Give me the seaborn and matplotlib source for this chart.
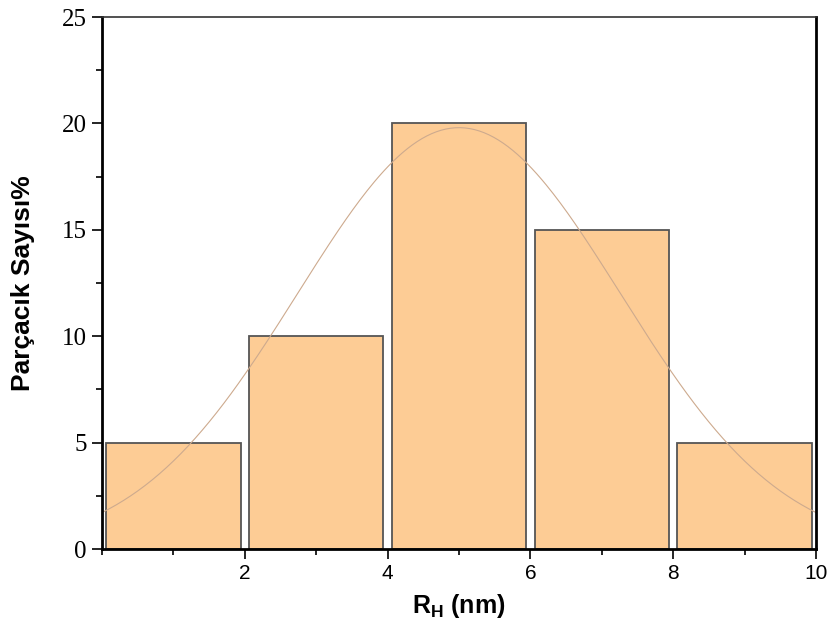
import numpy as np
import pandas as pd
import seaborn as sns
import matplotlib.pyplot as plt
from matplotlib.ticker import MultipleLocator

# histogram bins (nm) and particle percentage
bin_left = [0, 2, 4, 6, 8]
bin_right = [2, 4, 6, 8, 10]
counts = [5, 10, 20, 15, 5]

# gaussian fit parameters
fit_mean = 5.0
fit_sigma = 2.26
fit_amp = 19.8

sns.set_style('white')
plt.rcParams['text.color'] = 'black'
plt.rcParams['axes.labelcolor'] = 'black'
plt.rcParams['xtick.color'] = 'black'
plt.rcParams['ytick.color'] = 'black'
plt.rcParams['mathtext.fontset'] = 'custom'
plt.rcParams['mathtext.bf'] = 'Liberation Sans:bold'
plt.rcParams['mathtext.rm'] = 'Liberation Sans'

df = pd.DataFrame({'RH': [(a + b) / 2 for a, b in zip(bin_left, bin_right)],
                   'pct': counts})

fig = plt.figure(figsize=(8.32, 6.24), dpi=100)
ax = fig.add_axes([102 / 832, 1 - 549 / 624, 714 / 832, 532 / 624])

sns.histplot(data=df, x='RH', weights='pct', bins=bin_left + [bin_right[-1]],
             shrink=0.94, color='#FDCC95', alpha=1, edgecolor='#555555',
             linewidth=1.3, ax=ax)

xs = np.linspace(0, 10, 300)
ys = fit_amp * np.exp(-(xs - fit_mean) ** 2 / (2 * fit_sigma ** 2))
sns.lineplot(x=xs, y=ys, color='#CDAA8E', linewidth=0.8, ax=ax)

ax.set_xlim(0, 10)
ax.set_ylim(0, 25)
ax.xaxis.set_minor_locator(MultipleLocator(1))
ax.yaxis.set_minor_locator(MultipleLocator(2.5))
ax.tick_params(which='both', direction='out', bottom=True, left=True,
               top=False, right=False, color='black')
ax.tick_params(which='major', length=7, width=1.2, pad=4)
ax.tick_params(which='minor', length=4, width=1.2)

ax.set_xticks([2, 4, 6, 8, 10])
ax.set_xticklabels(['2', '4', '6', '8', '10'], fontsize=15, family='Liberation Sans')
ax.set_yticks([0, 5, 10, 15, 20, 25])
ax.set_yticklabels(['0', '5', '10', '15', '20', '25'], fontsize=18, family='Liberation Serif')

for s in ['left', 'bottom', 'right']:
    ax.spines[s].set_linewidth(2)
    ax.spines[s].set_color('black')
ax.spines['top'].set_linewidth(1.2)
ax.spines['top'].set_color('#333333')

ax.set_ylabel('Parçacık Sayısı%', fontsize=19, fontweight='bold',
              family='Liberation Sans', labelpad=19)
ax.set_xlabel(r'$\mathbf{R}_{\mathbf{H}}$ (nm)', fontsize=18, fontweight='bold',
              family='Liberation Sans', labelpad=6)

fig.savefig('out.png', dpi=100)
plt.close()
